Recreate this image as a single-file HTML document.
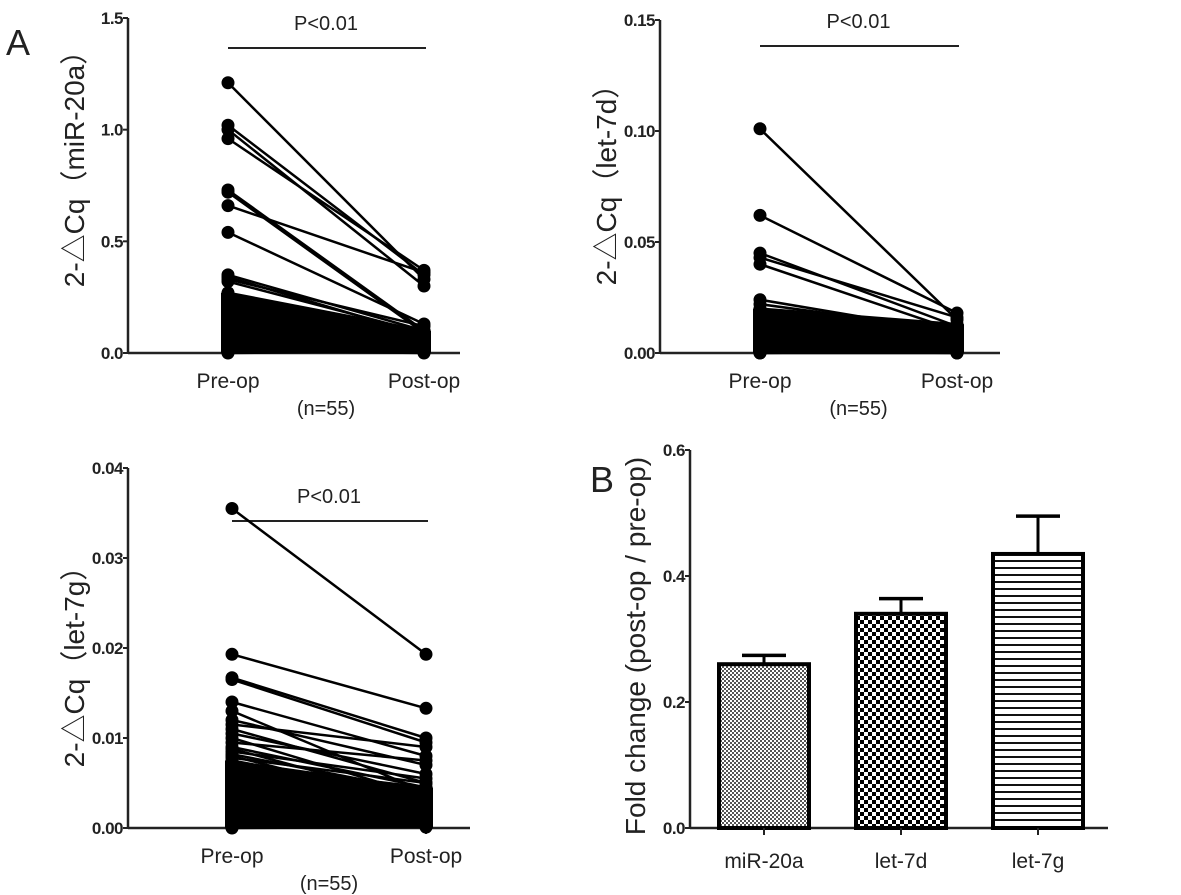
<!DOCTYPE html>
<html><head><meta charset="utf-8"><style>
body{margin:0;background:#fff;}
svg{display:block;font-family:"Liberation Sans","Noto Sans CJK SC",sans-serif;}
.tick{font-size:17px;font-weight:bold;fill:#222;letter-spacing:-0.5px;}
.lab{fill:#222;}
</style></head><body>
<svg id="fig" width="1181" height="895" viewBox="0 0 1181 895" xmlns="http://www.w3.org/2000/svg">
<defs>
<pattern id="pat1" width="4" height="4" patternUnits="userSpaceOnUse"><rect width="4" height="4" fill="#fff"/><rect width="2" height="2" fill="#555"/><rect x="2" y="2" width="2" height="2" fill="#555"/></pattern>
<pattern id="pat2" width="8" height="8" patternUnits="userSpaceOnUse"><rect width="8" height="8" fill="#fff"/><rect width="4" height="4" fill="#000"/><rect x="4" y="4" width="4" height="4" fill="#000"/></pattern>
<pattern id="pat3" width="8" height="7" patternUnits="userSpaceOnUse"><rect width="8" height="7" fill="#fff"/><rect y="0" width="8" height="2" fill="#111"/></pattern>
</defs>
<text x="6" y="55" font-size="36" fill="#222">A</text>
<text x="590" y="492" font-size="36" fill="#222">B</text>
</svg>
<script>
const svgNS="http://www.w3.org/2000/svg";
const fig=document.getElementById('fig');
function mk(tag,attrs,parent){const e=document.createElementNS(svgNS,tag);for(const k in attrs)e.setAttribute(k,attrs[k]);(parent||fig).appendChild(e);return e;}

// Panel A1: miR-20a
const mirPre=[1.21,1.02,1.00,0.96,0.73,0.72,0.66,0.54,0.35,0.34,0.33,0.32,0.27,0.26,0.25,0.25,0.24,0.23,0.22,0.22,0.21,0.20,0.19,0.18,0.18,0.17,0.16,0.15,0.15,0.14,0.13,0.12,0.12,0.11,0.10,0.10,0.09,0.08,0.08,0.07,0.06,0.06,0.05,0.05,0.04,0.04,0.03,0.03,0.02,0.02,0.02,0.01,0.01,0.01,0.00];
const mirPost=[0.33,0.35,0.30,0.37,0.10,0.09,0.36,0.13,0.10,0.08,0.12,0.09,0.10,0.08,0.07,0.09,0.06,0.08,0.07,0.05,0.06,0.09,0.05,0.04,0.07,0.06,0.03,0.05,0.08,0.04,0.06,0.03,0.05,0.04,0.02,0.06,0.03,0.04,0.02,0.05,0.03,0.01,0.04,0.02,0.03,0.01,0.02,0.04,0.01,0.03,0.02,0.01,0.00,0.02,0.01];
const mirTicks=[0.0,0.5,1.0,1.5];
// Panel A2: let-7d
const d7Pre=[0.101,0.062,0.045,0.043,0.040,0.024,0.022,0.020,0.019,0.018,0.017,0.017,0.016,0.015,0.015,0.014,0.014,0.013,0.013,0.012,0.012,0.011,0.011,0.010,0.010,0.009,0.009,0.009,0.008,0.008,0.007,0.007,0.007,0.006,0.006,0.006,0.005,0.005,0.005,0.004,0.004,0.004,0.003,0.003,0.003,0.002,0.002,0.002,0.002,0.001,0.001,0.001,0.001,0.000,0.000];
const d7Post=[0.015,0.018,0.012,0.016,0.010,0.009,0.010,0.013,0.008,0.011,0.009,0.007,0.010,0.008,0.006,0.009,0.007,0.005,0.008,0.006,0.007,0.004,0.009,0.005,0.006,0.003,0.007,0.004,0.005,0.006,0.003,0.004,0.005,0.002,0.004,0.003,0.005,0.002,0.003,0.004,0.002,0.001,0.003,0.002,0.001,0.003,0.002,0.001,0.002,0.001,0.000,0.002,0.001,0.001,0.000];
const d7Ticks=[0.00,0.05,0.10,0.15];
// Panel A3: let-7g
const g7Pre=[0.0355,0.0193,0.0167,0.0165,0.0140,0.0130,0.0120,0.0115,0.0110,0.0105,0.0100,0.0095,0.0090,0.0088,0.0085,0.0082,0.0080,0.0078,0.0075,0.0072,0.0070,0.0068,0.0065,0.0062,0.0060,0.0058,0.0055,0.0053,0.0050,0.0048,0.0045,0.0043,0.0040,0.0038,0.0035,0.0033,0.0030,0.0028,0.0025,0.0023,0.0020,0.0018,0.0015,0.0013,0.0012,0.0010,0.0009,0.0008,0.0006,0.0005,0.0004,0.0003,0.0002,0.0001,0.0000];
const g7Post=[0.0193,0.0133,0.0100,0.0095,0.0080,0.0040,0.0070,0.0090,0.0050,0.0060,0.0035,0.0075,0.0045,0.0030,0.0055,0.0040,0.0025,0.0050,0.0035,0.0030,0.0045,0.0020,0.0040,0.0030,0.0025,0.0035,0.0020,0.0030,0.0015,0.0025,0.0020,0.0030,0.0015,0.0025,0.0010,0.0020,0.0015,0.0010,0.0020,0.0012,0.0008,0.0015,0.0010,0.0006,0.0012,0.0008,0.0005,0.0010,0.0004,0.0006,0.0003,0.0005,0.0002,0.0003,0.0001];
const g7Ticks=[0.00,0.01,0.02,0.03,0.04];
const groupLabels=['Pre-op','Post-op'];

function pairedPanel(o){
  const g=mk('g',{});
  
  
  const y=v=>o.y0-(v/o.max)*(o.y0-o.y1);
  const ya=mk('line',{x1:o.ax,y1:o.y1,x2:o.ax,y2:o.y0+1,stroke:'#222','stroke-width':2.5},g);
  
  const xa=mk('line',{x1:o.ax,y1:o.y0,x2:o.xend,y2:o.y0,stroke:'#222','stroke-width':2.5},g);
  
  o.ticks.forEach(t=>{
    mk('line',{x1:o.ax-5,y1:y(t),x2:o.ax,y2:y(t),stroke:'#222','stroke-width':2},g);
    const tx=mk('text',{x:o.ax-5,y:y(t)+6,'text-anchor':'end',class:'tick'},g);
    tx.textContent=t.toFixed(o.dec);
    
  });
  [o.xPre,o.xPost].forEach((xx,i)=>{
    mk('line',{x1:xx,y1:o.y0,x2:xx,y2:o.y0+6,stroke:'#222','stroke-width':2},g);
    const tx=mk('text',{x:xx,y:o.y0+35,'text-anchor':'middle',class:'lab','font-size':21},g);
    tx.textContent=groupLabels[i];
    
  });
  const n=mk('text',{x:(o.xPre+o.xPost)/2,y:o.y0+62,'text-anchor':'middle',class:'lab','font-size':20},g);
  n.textContent='(n=55)';
  const pl=mk('line',{x1:o.xPre,y1:o.py,x2:o.xPost+2,y2:o.py,stroke:'#222','stroke-width':2},g);
  
  const pt=mk('text',{x:(o.xPre+o.xPost)/2,y:o.py-18,'text-anchor':'middle',class:'lab','font-size':20},g);
  pt.textContent='P<0.01';
  const yt=mk('text',{x:0,y:0,'text-anchor':'middle',class:'lab','font-size':28,transform:`translate(${o.ax-44},${o.tcy}) rotate(-90)`},g);
  yt.textContent=o.title;
  for(let i=o.pre.length-1;i>=0;i--){
    const ln=mk('line',{x1:o.xPre,y1:y(o.pre[i]),x2:o.xPost,y2:y(o.post[i]),stroke:'#000','stroke-width':2.5},g);
    
  }
  o.pre.forEach((v,i)=>{
    const a=mk('circle',{cx:o.xPre,cy:y(v),r:6.5,fill:'#000'},g);
    
    const b=mk('circle',{cx:o.xPost,cy:y(o.post[i]),r:6.5,fill:'#000'},g);
    
  });
  const lowPre=o.pre.slice(o.massFrom), lowPost=o.post.slice(o.massFrom);
  const mp=Math.max(...lowPre), mq=Math.max(...lowPost);
  const poly=mk('polygon',{points:`${o.xPre-7},${o.y0} ${o.xPre-7},${y(mp)} ${o.xPre},${y(mp)} ${o.xPost},${y(mq)} ${o.xPost+7},${y(mq)} ${o.xPost+7},${o.y0}`,fill:'#000'},g);
  
}
pairedPanel({name:'panel-mir-20a',ax:128,y0:353,y1:18,max:1.5,xend:460,xPre:228,xPost:424,py:48,ticks:mirTicks,dec:1,title:'2-\u25B3Cq（miR-20a）',pre:mirPre,post:mirPost,massFrom:12,tcy:162});
pairedPanel({name:'panel-let-7d',ax:660,y0:353,y1:20,max:0.15,xend:1000,xPre:760,xPost:957,py:46,ticks:d7Ticks,dec:2,title:'2-\u25B3Cq（let-7d）',pre:d7Pre,post:d7Post,massFrom:7,tcy:178});
pairedPanel({name:'panel-let-7g',ax:128,y0:828,y1:468,max:0.04,xend:470,xPre:232,xPost:426,py:521,ticks:g7Ticks,dec:2,title:'2-\u25B3Cq（let-7g）',pre:g7Pre,post:g7Post,massFrom:18,tcy:660});

// Panel B bar chart
const barCats=['miR-20a','let-7d','let-7g'];
const barMeans=[0.26,0.34,0.435];
const barErr=[0.014,0.024,0.06];
const barTicks=[0.0,0.2,0.4,0.6];
const barFills=['url(#pat1)','url(#pat2)','url(#pat3)'];
(function(){
  const ax=690,y0=828,y1=450,max=0.6,bw=90,x0=764,step=137;
  const y=v=>y0-(v/max)*(y0-y1);
  const g=mk('g',{});
  
  const ya=mk('line',{x1:ax,y1:y1,x2:ax,y2:y0+1,stroke:'#222','stroke-width':2.5},g);
  
  const xa=mk('line',{x1:ax,y1:y0,x2:1108,y2:y0,stroke:'#222','stroke-width':2.5},g);
  
  barTicks.forEach(t=>{
    mk('line',{x1:ax-5,y1:y(t),x2:ax,y2:y(t),stroke:'#222','stroke-width':2},g);
    const tx=mk('text',{x:ax-5,y:y(t)+6,'text-anchor':'end',class:'tick'},g);
    tx.textContent=t.toFixed(1);
    
  });
  const yt=mk('text',{x:0,y:0,'text-anchor':'middle',class:'lab','font-size':28,transform:`translate(${ax-45},646) rotate(-90)`},g);
  yt.textContent='Fold change (post-op / pre-op)';
  
  barCats.forEach((c,i)=>{
    const cx=x0+i*step;
    const eb=mk('line',{x1:cx,y1:y(barMeans[i]),x2:cx,y2:y(barMeans[i]+barErr[i]),stroke:'#000','stroke-width':3},g);
    
    const cap=mk('line',{x1:cx-22,y1:y(barMeans[i]+barErr[i]),x2:cx+22,y2:y(barMeans[i]+barErr[i]),stroke:'#000','stroke-width':3.5},g);
    
    const r=mk('rect',{x:cx-bw/2,y:y(barMeans[i]),width:bw,height:y0-y(barMeans[i]),fill:barFills[i],stroke:'#000','stroke-width':4},g);
    
    mk('line',{x1:cx,y1:y0,x2:cx,y2:y0+7,stroke:'#222','stroke-width':2},g);
    const tx=mk('text',{x:cx,y:y0+40,'text-anchor':'middle',class:'lab','font-size':21},g);
    tx.textContent=c;
  });
})();
</script>
</body></html>
